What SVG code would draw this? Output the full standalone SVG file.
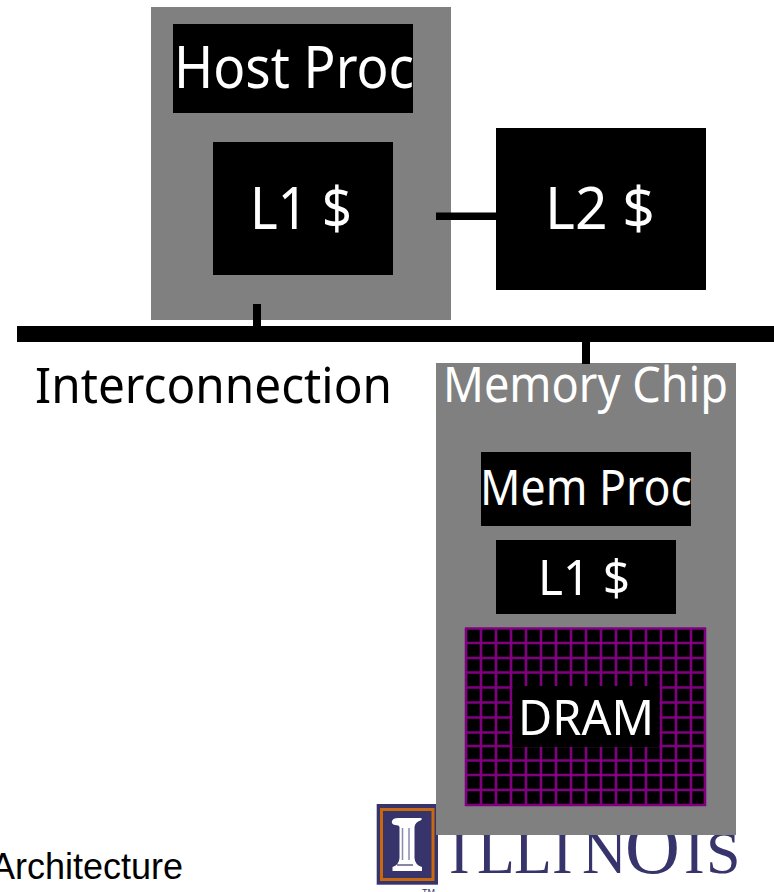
<svg xmlns="http://www.w3.org/2000/svg" width="774" height="892" viewBox="0 0 774 892">
<style>
.g{fill:#808080}.b{fill:#000}
text{font-family:"Noto Sans","Open Sans",sans-serif}
.w{fill:#fff}.k{fill:#000}
.big{font-size:58px}.mid{font-size:50px}
.grid{fill:none;stroke:#800080;stroke-width:2.600}
</style>
<rect width="774" height="892" fill="#fff"/>
<g id="footer"><text x="-9" y="879" style="font-family:'Liberation Sans',Arial,sans-serif;font-size:36px" class="k">Architecture</text></g>
<g id="logo">
<rect x="376.7" y="804" width="61.3" height="80.7" fill="#36346b"/>
<rect x="381.5" y="809.5" width="51.5" height="70" fill="none" stroke="#c8680f" stroke-width="3"/>
<path d="M392 821Q393 818 398 818L421.500 818L421.500 820Q415 822 414.500 827L414.500 858Q415 865 422 867L422 871L392.500 871L392.500 867Q399 865 399.500 858L399.500 827Q399 825 395 825Q391 824 392 821Z" fill="#fff"/>
<path d="M402.500 828V860M409 828V860" fill="none" stroke="#8a8ab0" stroke-width="1.500"/>
<path d="M397 865H413" fill="none" stroke="#36346b" stroke-width="1.200"/>
<text y="872.500" font-size="62" style="font-family:'Liberation Serif',serif" fill="#36346b" x="449 477 514 552 582">ILLIN</text>
<text x="625" y="872.500" font-size="76" style="font-family:'Liberation Serif',serif" fill="#36346b">O</text>
<text y="872.500" font-size="62" style="font-family:'Liberation Serif',serif" fill="#36346b" x="684 706">IS</text>
<text x="422" y="895" font-size="9" fill="#36346b" style="font-family:'Liberation Sans',sans-serif">TM</text>
</g>
<g id="host-chip"><rect class="g" x="151" y="7" width="300" height="313"/></g>
<g id="memory-chip"><rect class="g" x="436" y="363" width="300" height="472"/>
<text class="w mid" x="443" y="402" textLength="285" lengthAdjust="spacingAndGlyphs">Memory Chip</text></g>
<g id="connectors">
<rect class="b" x="17" y="326" width="757" height="16"/>
<rect class="b" x="253" y="304" width="8" height="22"/>
<rect class="b" x="582" y="342" width="8" height="22"/>
<rect class="b" x="436" y="212.500" width="60" height="7.500"/>
</g>
<g id="host-proc"><rect class="b" x="173" y="24" width="240" height="89"/>
<text class="w big" x="174" y="88" textLength="240" lengthAdjust="spacingAndGlyphs">Host Proc</text></g>
<g id="l1-host"><rect class="b" x="213" y="142" width="180" height="133"/>
<text class="w big" x="250" y="229" textLength="102" lengthAdjust="spacingAndGlyphs">L1 $</text></g>
<g id="l2"><rect class="b" x="496" y="128" width="210" height="162"/>
<text class="w big" x="545" y="229" textLength="110" lengthAdjust="spacingAndGlyphs">L2 $</text></g>
<g id="interconnection"><text class="k mid" x="35" y="403" textLength="357" lengthAdjust="spacingAndGlyphs">Interconnection</text></g>
<g id="mem-proc"><rect class="b" x="481" y="452" width="210" height="74"/>
<text class="w mid" x="480" y="505" textLength="212" lengthAdjust="spacingAndGlyphs">Mem Proc</text></g>
<g id="l1-mem"><rect class="b" x="496" y="540" width="180" height="74"/>
<text class="w mid" x="538" y="595" textLength="92" lengthAdjust="spacingAndGlyphs">L1 $</text></g>
<g id="dram"><rect class="b" x="465" y="628" width="241" height="178"/>
<path class="grid" d="M466 628V806M481 628V806M496 628V806M511 628V806M526 628V806M541 628V806M556 628V806M571 628V806M586 628V806M601 628V806M616 628V806M631 628V806M646 628V806M661 628V806M676 628V806M691 628V806M705 628V806M465 628.500H706M465 643H706M465 658H706M465 672.500H706M465 687.500H706M465 702.500H706M465 717.500H706M465 732.500H706M465 746H706M465 760.500H706M465 775H706M465 790H706M465 805H706"/>
<rect class="b" x="512.500" y="686" width="147" height="61"/>
<text class="w mid" x="518" y="735" textLength="136" lengthAdjust="spacingAndGlyphs">DRAM</text></g>
</svg>
